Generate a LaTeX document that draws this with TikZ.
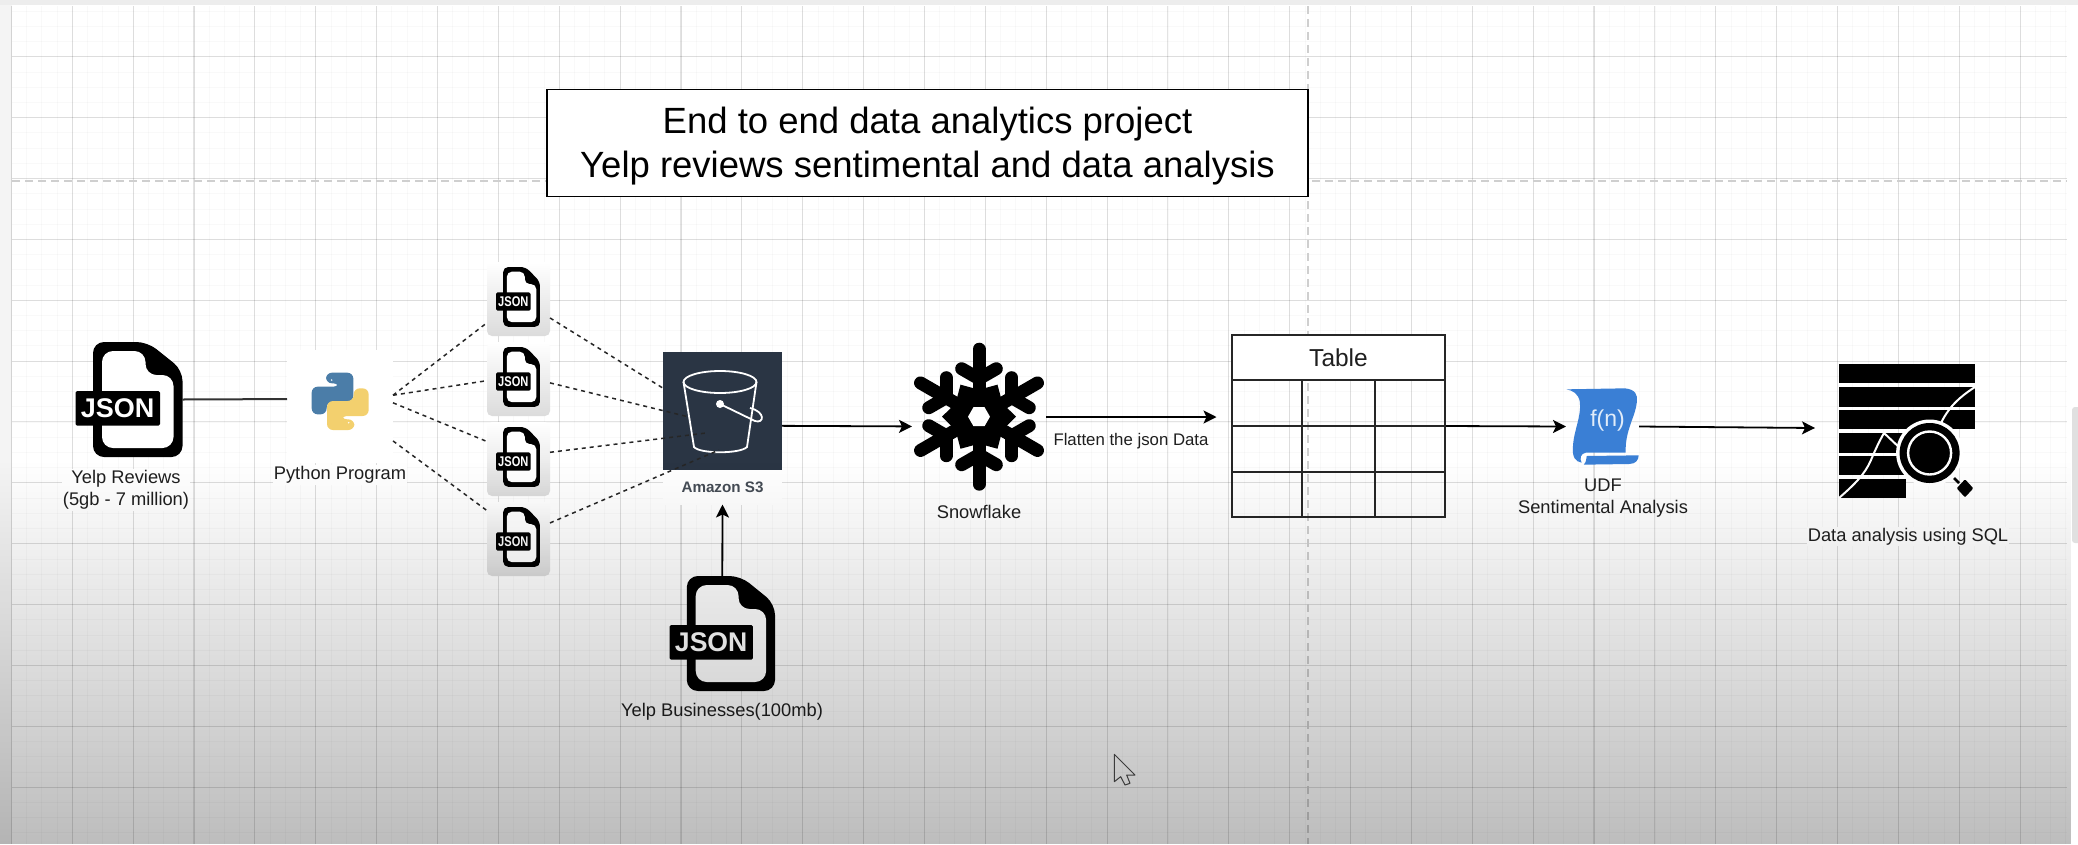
\documentclass[tikz,border=0pt]{standalone}
\usepackage{fontspec}
\setmainfont{Liberation Sans}
\usetikzlibrary{arrows.meta,fadings}
\definecolor{awsdark}{HTML}{2A3544}
\definecolor{awstext}{HTML}{454C55}
\definecolor{pyblue}{HTML}{4B7DA8}
\definecolor{pyyellow}{HTML}{F3D06E}
\definecolor{udfblue}{HTML}{3A7FD5}
\definecolor{breakgray}{HTML}{CFCFCF}
\definecolor{stripgray}{HTML}{F4F4F4}
\tikzfading[name=vignette,top color=transparent!100,bottom color=transparent!74]
\tikzset{
  lab/.style={font=\fontsize{18.3}{22}\selectfont,text=black!88,align=center,inner sep=1pt,fill=white},
  holder/.style={inner sep=0pt,outer sep=0pt,draw=none},
  flow/.style={line width=1.8pt,draw=black,-{Stealth[length=13pt,width=13pt,inset=3pt]}},
  dashflow/.style={line width=1.5pt,draw=black!85,dash pattern=on 4pt off 4pt},
  gridmajor/.style={line width=1.1pt,draw=black,opacity=.11},
  gridminor/.style={line width=.8pt,draw=black,opacity=.025},
  pagebreak/.style={line width=2pt,draw=breakgray,dash pattern=on 8pt off 5pt},
  smallbg/.style={holder,rounded corners=5pt,top color=white,bottom color=black!14,minimum width=63pt,minimum height=74pt},
  tline/.style={line width=1.4pt,draw=black!85},
  flake/.style={line width=13pt,line cap=round,black},
}
\newcommand{\jsonicon}[6]{%
  \begin{scope}[shift={(#1,#2)},xscale=#3,yscale=#4]
    \fill[black,rounded corners=#5pt] (17.5,0) -- (72,0) -- (107,28) -- (107,115) -- (17.5,115) -- cycle;
    \fill[white,rounded corners=#5pt] (26.5,9) -- (70,9) -- (70,33) -- (98,33) -- (98,106) -- (26.5,106) -- cycle;
    \fill[black,rounded corners=1.5pt] (0,49) rectangle (84.5,83.7);
    \node[transform shape,inner sep=0pt,text=white,font=\bfseries\fontsize{27}{27}\selectfont] (#6) at (42.2,66.5) {JSON};
  \end{scope}}
\begin{document}
\begin{tikzpicture}[x=1pt,y=-1pt]
\useasboundingbox (0,0) rectangle (2078,844);
% page
\fill[white] (0,0) rectangle (2078,844);
\fill[stripgray] (0,0) rectangle (12,844);
\fill[black!7] (0,0) rectangle (2078,5);
% grid
\foreach \k in {0,...,135} \draw[gridminor] ({11.4+15.2175*\k},6) -- ({11.4+15.2175*\k},844);
\foreach \k in {0,...,55} \draw[gridminor] (12,{11.1+15.2175*\k}) -- (2067,{11.1+15.2175*\k});
\foreach \k in {0,...,33} \draw[gridmajor] ({11.4+60.87*\k},6) -- ({11.4+60.87*\k},844);
\foreach \k in {0,...,13} \draw[gridmajor] (12,{56.7+60.87*\k}) -- (2067,{56.7+60.87*\k});
\draw[pagebreak] (12,181) -- (2067,181);
\draw[pagebreak] (1308,6) -- (1308,844);
% scrollbar
\fill[black!12,rounded corners=3pt] (2072,407) rectangle (2083,543);
% title
\node[draw=black,line width=1.5pt,fill=white,inner sep=0pt,minimum width=761pt,minimum height=107pt,align=center,font=\fontsize{36.5}{44}\selectfont] (title) at (927.5,143) {\rule{0pt}{32pt}End to end data analytics project\\Yelp reviews sentimental and data analysis};
% holders
\node[holder,minimum width=107pt,minimum height=115pt] (jy) at (129,399.5) {};
\node[holder,fill=white,minimum width=106pt,minimum height=113pt] (py) at (340,406.5) {};
\node[smallbg] (j1) at (518.5,299) {};
\node[smallbg] (j2) at (518.5,379) {};
\node[smallbg] (j3) at (518.5,459) {};
\node[smallbg] (j4) at (518.5,539) {};
\node[holder,fill=awsdark,minimum width=119pt,minimum height=118pt] (s3) at (722.5,411) {};
\node[holder,fill=white,minimum width=119pt,minimum height=35pt,text=awstext,font=\bfseries\fontsize{15.2}{18}\selectfont] (s3lab) at (722.5,487) {Amazon S3};
\node[holder,minimum width=134pt,minimum height=148pt] (snow) at (979,417) {};
\node[holder,minimum width=105.4pt,minimum height=115pt] (jb) at (722.3,633.5) {};
\node[holder,minimum width=213pt,minimum height=182pt] (tbl) at (1338.5,426) {};
\node[holder,minimum width=73pt,minimum height=77pt] (udf) at (1602.5,426.5) {};
\node[holder,minimum width=136pt,minimum height=134pt] (dataicon) at (1907,431) {};
\coordinate (s3b) at (689,417);
\coordinate (s3c) at (706,433);
\coordinate (s3d) at (719,450);
\coordinate (ftip) at (1216.5,417);
\coordinate (dtip) at (1815,428);
% bucket
\begin{scope}[white,line width=1.8pt]
  \draw (720,382) ellipse [x radius=36.5,y radius=11];
  \draw (683.5,382) -- (694,447) .. controls (700,454) and (740,454) .. (747,447) -- (756.5,382);
  \fill (720,404) circle [radius=4];
  \draw (720,404) -- (755,421) .. controls (764,424) and (766,412) .. (750,408);
\end{scope}
% connectors
\draw[line width=2pt,draw=black!80] (jy.east) -- (py.172);
\draw[dashflow] (py.12) -- (j1.217.3);
\draw[dashflow] (py.12) -- (j2.183.6);
\draw[dashflow] (py.4.9) -- (j3.151.6);
\draw[dashflow] (py.-33.4) -- (j4.138.4);
\draw[dashflow] (j1.-31) -- (s3.159);
\draw[dashflow] (j2.-7) -- (s3b);
\draw[dashflow] (j3.12.5) -- (s3c);
\draw[dashflow] (j4.27.6) -- (s3d);
\draw[flow] (s3.-14.8) -- (snow.188.4);
\draw[flow] (snow.east) -- (ftip);
\node[inner sep=1pt,font=\fontsize{16.8}{19}\selectfont,text=black!88] (flat) at (1131,441) {Flatten the json Data};
\draw[flow] (jb.north) -- (s3lab.south);
\draw[flow] (tbl.east) -- (udf.west);
\draw[flow] (udf.east) -- (dtip);
% JSON icons
\jsonicon{75.5}{342}{1}{1}{11}{jsonA}
\jsonicon{669.6}{576}{.985}{1}{11}{jsonB}
\jsonicon{496}{267}{.411}{.52}{5}{json1}
\jsonicon{496}{347}{.411}{.52}{5}{json2}
\jsonicon{496}{427}{.411}{.52}{5}{json3}
\jsonicon{496}{507}{.411}{.52}{5}{json4}
% python logo
\begin{scope}[shift={(280,350)},scale=1/3]
  \fill[pyblue,rounded corners=6pt] (138,100) -- (138,68) -- (220,68) -- (220,155) -- (140,155) -- (140,193) -- (95,193) -- (95,110) -- (178,110) -- (178,100) -- cycle;
  \fill[white] (155,90) circle [radius=2.5];
  \begin{scope}[rotate around={180:(180.5,154)}]
    \fill[pyyellow,rounded corners=6pt] (138,100) -- (138,68) -- (220,68) -- (220,155) -- (140,155) -- (140,193) -- (95,193) -- (95,110) -- (178,110) -- (178,100) -- cycle;
    \fill[white] (155,90) circle [radius=2.5];
  \end{scope}
\end{scope}
% snowflake
\begin{scope}[shift={(979,416.7)}]
  \foreach \a in {30,90,...,330} {
    \draw[flake] (0,0) -- (\a:67.5);
    \draw[flake] (\a:38) -- ++(\a+60:20);
    \draw[flake] (\a:38) -- ++(\a-60:20);
  }
  \fill[black] (0:37) -- (30:27) -- (60:37) -- (90:27) -- (120:37) -- (150:27) -- (180:37) -- (210:27) -- (240:37) -- (270:27) -- (300:37) -- (330:27) -- cycle;
  \fill[white] (0:11) -- (60:11) -- (120:11) -- (180:11) -- (240:11) -- (300:11) -- cycle;
\end{scope}
% table
\node[draw=black!85,line width=1.4pt,fill=white,inner sep=0pt,minimum width=213pt,minimum height=45pt,font=\fontsize{24.5}{28}\selectfont,text=black!88] (tblh) at (1338.5,357.5) {Table};
\draw[tline] (tbl.north west) rectangle (tbl.south east);
\draw[tline] (1232,426) -- (1445,426);
\draw[tline] (1232,472) -- (1445,472);
\draw[tline] (1302,380) -- (1302,517);
\draw[tline] (1375,380) -- (1375,517);
% udf scroll
\begin{scope}[shift={(1400,330)},xscale=1/2.313,yscale=1/3]
  \fill[udfblue] (385,178) -- (520,175) .. controls (545,178) and (550,195) .. (548,215) .. controls (545,260) and (520,300) .. (522,368) -- (430,368) .. controls (418,370) and (415,385) .. (420,398) .. controls (405,395) and (398,380) .. (400,350) .. controls (402,300) and (420,260) .. (416,215) .. controls (412,190) and (400,182) .. (385,178) -- cycle;
  \fill[udfblue] (432,378) -- (552,376) .. controls (552,390) and (545,402) .. (530,402) -- (425,404) .. controls (432,395) and (430,385) .. (432,378) -- cycle;
\end{scope}
\node[inner sep=0pt,text=white!85!udfblue,font=\fontsize{23}{26}\selectfont] (fn) at (1607.5,421) {f(n)};
% data icon
\fill[black] (1839,364) rectangle (1975,383);
\fill[black] (1839,387) rectangle (1975,407);
\fill[black] (1839,410) rectangle (1975,429);
\fill[black] (1839,433) rectangle (1925,453);
\fill[black] (1839,456) rectangle (1925,475);
\fill[black] (1839,479) rectangle (1906,498);
\draw[white,line width=2pt] (1839,498) .. controls (1855,484) and (1865,474) .. (1871,460) .. controls (1876,448) and (1880,440) .. (1884,433) -- (1902,450);
\draw[white,line width=2pt] (1940,425) .. controls (1948,408) and (1958,398) .. (1975,387);
\fill[white] (1929.6,453) circle [radius=33.5];
\fill[black] (1929.6,453) circle [radius=30];
\draw[white,line width=2.4pt] (1929.6,453) circle [radius=21.5];
\draw[black,line width=2.5pt] (1954,478) -- (1959,483);
\fill[black,rounded corners=1pt] (1965,479.3) -- (1973.3,488.3) -- (1965,497.3) -- (1956.7,488.3) -- cycle;
% labels
\node[lab] (lyelp) at (126,490) {Yelp Reviews\\(5gb - 7 million)};
\node[lab] (lpy) at (340,475) {Python Program};
\node[lab,fill=none] (lbiz) at (722,712) {Yelp Businesses(100mb)};
\node[lab] (lsnow) at (979,512) {Snowflake};
\node[lab,fill=none] (ludf) at (1603,498.5) {UDF\\Sentimental Analysis};
\node[lab] (lsql) at (1908,536.5) {Data analysis using SQL};
% cursor
\begin{scope}[shift={(1050,720)},scale=1/3]
  \draw[black!70,line width=1pt,line join=round] (193,103) -- (193,185) -- (212,170) -- (225,195) -- (240,190) -- (230,165) -- (255,165) -- cycle;
\end{scope}
% darkening towards the bottom of the frame
\fill[black,path fading=vignette] (0,460) rectangle (2078,844);
\end{tikzpicture}
\end{document}
